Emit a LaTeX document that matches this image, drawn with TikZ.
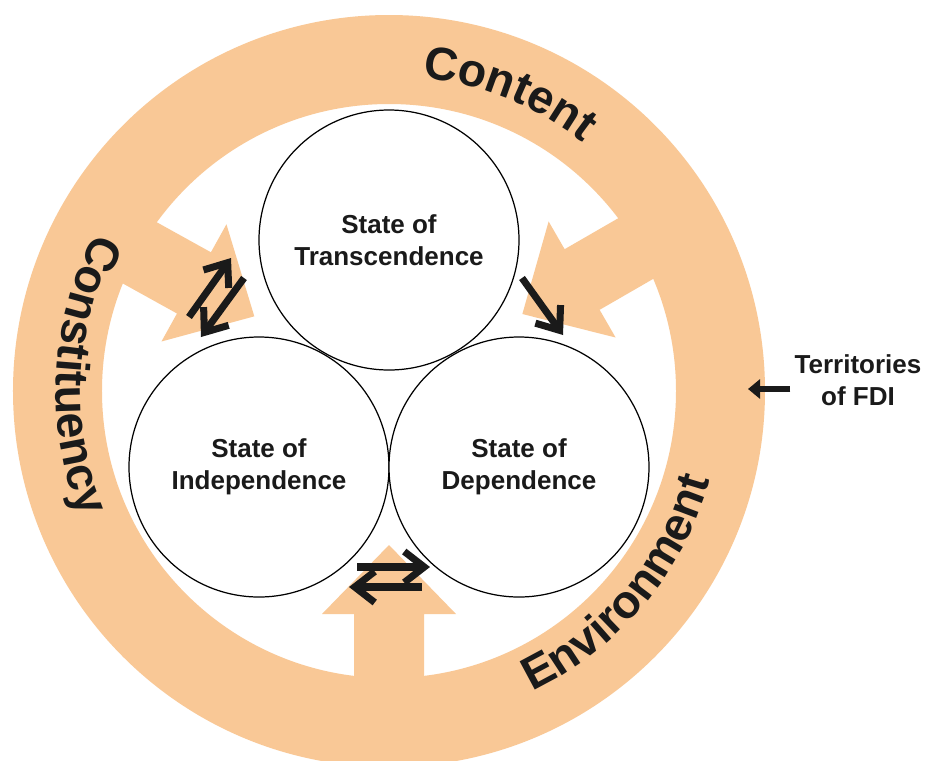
\documentclass[tikz,border=0pt]{standalone}
\usepackage{fontspec}
\setmainfont{Liberation Sans}
\usepackage{xcolor}
\usetikzlibrary{arrows.meta,decorations.text}

\definecolor{ringorange}{RGB}{249,200,150}
\definecolor{inkblack}{RGB}{26,26,26}
\newcommand\ringfont{\fontsize{26.5}{30}\selectfont\bfseries}
\newcommand\statefont{\fontsize{14.8}{18.2}\selectfont\bfseries}

\begin{document}
\begin{tikzpicture}[
    state/.style={circle, draw=black, line width=0.7pt, fill=white,
        minimum size=5.2cm, inner sep=0pt, align=center,
        font=\statefont, text=inkblack},
    flow/.style={draw=inkblack, line width=4pt,
        -{Straight Barb[length=0.4cm,width=0.62cm]}},
    ringtext/.style={decorate, decoration={text along path,
        text align=center, text color=inkblack, text={#1}}}
]
\useasboundingbox (-7.78,-7.38) rectangle (10.76,7.82);
\fill[white] (-7.78,-7.38) rectangle (10.76,7.82);
\clip (-7.78,-7.38) rectangle (10.76,7.82);

% the outer ring
\fill[ringorange, even odd rule] (0,0) circle (7.52) (0,0) circle (5.74);

% broad arrows pointing in from the ring
\foreach \a in {151,30,270}
    \fill[ringorange, rotate=\a] (3.08,0) -- (4.46,1.34) -- (4.46,0.7)
        -- (6.0,0.7) -- (6.0,-0.7) -- (4.46,-0.7) -- (4.46,-1.34) -- cycle;

% words along the ring
\path[ringtext={|\ringfont|Content}]
    (112:6.3) arc[start angle=112, end angle=24, radius=6.3];
\path[ringtext={|\ringfont|Constituency}]
    (128:6.66) arc[start angle=128, end angle=226, radius=6.66];
\path[ringtext={|\ringfont|Environment}]
    (-86:6.66) arc[start angle=-86, end angle=6, radius=6.66];

% the three states
\node[state] (trans) at (0,3.02) {State of\\Transcendence};
\node[state] (indep) at (-2.6,-1.52) {State of\\Independence};
\node[state] (dep) at (2.6,-1.52) {State of\\Dependence};

% arrows between the states
\coordinate (ti1) at (-4.0,1.48);
\coordinate (ti2) at (-3.16,2.66);
\coordinate (it1) at (-2.9,2.26);
\coordinate (it2) at (-3.76,1.08);
\coordinate (td1) at (2.66,2.26);
\coordinate (td2) at (3.48,1.12);
\coordinate (id1) at (-0.64,-3.52);
\coordinate (id2) at (0.82,-3.52);
\coordinate (di1) at (0.66,-3.92);
\coordinate (di2) at (-0.8,-3.92);

\draw[flow] (ti1) -- (ti2);
\draw[flow] (it1) -- (it2);
\draw[flow] (td1) -- (td2);
\draw[flow] (id1) -- (id2);
\draw[flow] (di1) -- (di2);

% label on the right
\node[font=\statefont, text=inkblack, align=center, inner sep=0pt]
    (fdi) at (9.38,0.22) {Territories\\of FDI};
\coordinate (fdiend) at (7.18,0.04);
\draw[inkblack, line width=3.4pt, shorten <=0.08cm,
    -{Triangle[length=0.24cm,width=0.38cm]}] (fdi.west |- fdiend) -- (fdiend);

\end{tikzpicture}
\end{document}
